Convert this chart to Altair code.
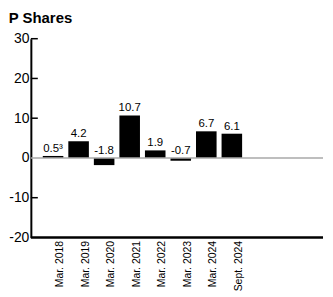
import altair as alt
import pandas as pd

periods = ["Mar. 2018", "Mar. 2019", "Mar. 2020", "Mar. 2021",
           "Mar. 2022", "Mar. 2023", "Mar. 2024", "Sept. 2024"]
values = [0.5, 4.2, -1.8, 10.7, 1.9, -0.7, 6.7, 6.1]
notes = ["³", "", "", "", "", "", "", ""]
y_ticks = [-20, -10, 0, 10, 20, 30]
inner_ticks = [-10, 10, 20, 30]

FONT = "Liberation Sans"

df = pd.DataFrame({
    "period": periods,
    "value": values,
    "label": [f"{v:.1f}{n}" for v, n in zip(values, notes)],
})
df["label_y"] = df["value"].clip(lower=0)
ticks_df = pd.DataFrame({"v": inner_ticks})

yscale = alt.Scale(domain=[-20, 30], nice=False, zero=False)
xscale = alt.Scale(domain=periods, paddingInner=0.195, paddingOuter=0.467, range=[0, 224.6])

x_axis = alt.Axis(title=None, labelAngle=-90, labelFontSize=10.5, labelFont=FONT,
                  labelColor="black", ticks=False, domain=False,
                  labelPadding=3, labelOffset=7)

y_axis = alt.Axis(title=None, values=y_ticks, grid=False, ticks=False,
                  domainColor="black", domainWidth=2, labelFontSize=14,
                  labelFont=FONT, labelColor="black", labelPadding=2,
                  labelOverlap=False, labelExpr="toString(datum.value)")

zero = alt.Chart(pd.DataFrame({"z": [0]})).mark_rule(color="#a8a8a8", strokeWidth=1.5).encode(
    y=alt.Y("z:Q", scale=yscale, axis=y_axis)
)

bottom = alt.Chart(pd.DataFrame({"z": [-20]})).mark_rule(color="black", strokeWidth=2.5).encode(
    y=alt.Y("z:Q", scale=yscale, axis=y_axis)
)

bars = alt.Chart(df).mark_bar(color="black").encode(
    x=alt.X("period:N", scale=xscale, sort=periods, axis=x_axis),
    y=alt.Y("value:Q", scale=yscale, axis=y_axis),
)

labels = alt.Chart(df).mark_text(baseline="bottom", dy=-2, fontSize=11.5, font=FONT, color="black").encode(
    x=alt.X("period:N", scale=xscale, sort=periods, axis=x_axis),
    y=alt.Y("label_y:Q", scale=yscale, axis=y_axis),
    text="label:N",
)

ticks = alt.Chart(ticks_df).mark_rule(color="black", strokeWidth=1.5).encode(
    y=alt.Y("v:Q", scale=yscale, axis=y_axis),
    x=alt.value(0),
    x2=alt.value(7),
)

chart = alt.layer(bars, zero, bottom, labels, ticks).properties(
    width=294,
    height=200,
    title=alt.TitleParams("P Shares", anchor="start", fontSize=15, fontWeight="bold",
                          font=FONT, color="black", offset=6),
    padding={"left": 0, "top": 2, "right": 0, "bottom": 0},
).configure_view(stroke=None).configure_axisY(labelOverlap=False)

chart.save("out.html", embed_options={"renderer": "svg", "actions": False})
